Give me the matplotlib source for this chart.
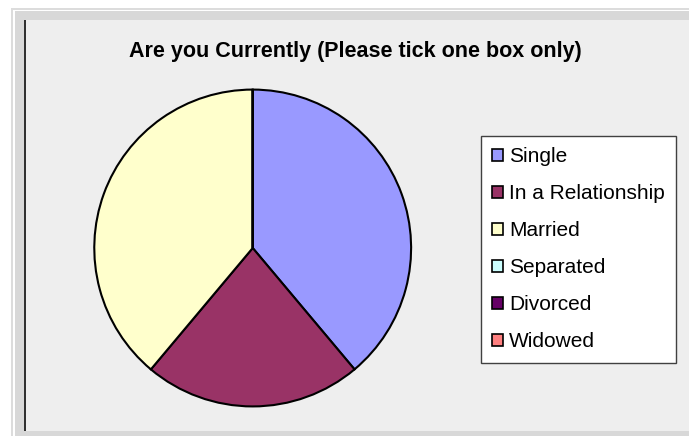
import matplotlib
matplotlib.use("Agg")
import matplotlib.pyplot as plt
from matplotlib.patches import Rectangle, Patch

# Survey answers
categories = ["Single", "In a Relationship", "Married", "Separated", "Divorced", "Widowed"]
counts = [7, 4, 7, 0, 0, 0]
colors = ["#9999FF", "#993366", "#FFFFCC", "#CCFFFF", "#660066", "#FF8080"]
title = "Are you Currently (Please tick one box only)"

W, H = 689, 436
plt.rcParams['font.family'] = ['Liberation Sans', 'DejaVu Sans']
fig = plt.figure(figsize=(W / 100, H / 100), dpi=100)
fig.patch.set_facecolor("white")


def px_rect(x0, y0, x1, y1, color):
    # rectangle given in pixel coords (top-left origin)
    fig.add_artist(Rectangle((x0 / W, 1 - y1 / H), (x1 - x0) / W, (y1 - y0) / H,
                             transform=fig.transFigure, facecolor=color,
                             edgecolor="none", zorder=0))


# screenshot frame around the chart
px_rect(11, 8, W, 10, "#dcdcdc")
px_rect(11, 8, 13, H, "#dcdcdc")
px_rect(15, 11, W, H, "#d8d8d8")
px_rect(24, 20, W, 431, "#eeeeee")
px_rect(24, 20, 26, 431, "#303030")

fig.text(355 / W, 1 - 51 / H, title, ha="center", va="center",
         fontsize=15.5, fontweight="bold", color="black")

cx, cy, r = 252.7, 248, 160
ax = fig.add_axes([(cx - r) / W, (H - cy - r) / H, 2 * r / W, 2 * r / H])
ax.pie(counts, colors=colors, startangle=90, counterclock=False, radius=1,
       wedgeprops=dict(edgecolor="black", linewidth=1.5))
ax.set_xlim(-1.01, 1.01)
ax.set_ylim(-1.01, 1.01)
ax.axis("off")

handles = [Patch(facecolor=c, edgecolor="black", linewidth=1.2) for c in colors]
leg = fig.legend(handles, categories, loc="upper left",
                 bbox_to_anchor=(481 / W, 1 - 136 / H), borderaxespad=0,
                 fontsize=15, frameon=True, fancybox=False, framealpha=1,
                 edgecolor="#404040", handlelength=0.5, handleheight=0.5,
                 handletextpad=0.3, labelspacing=0.86, borderpad=0.55)
leg.get_frame().set_linewidth(1.0)

fig.savefig("out.png", dpi=100)
